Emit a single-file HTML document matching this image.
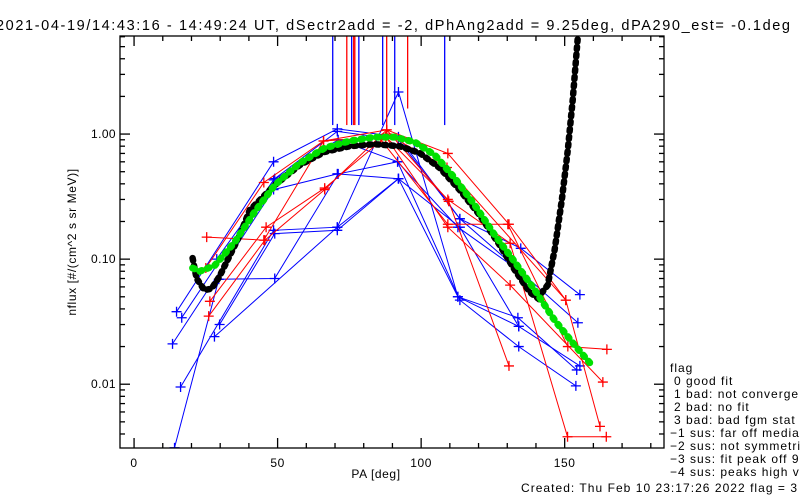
<!DOCTYPE html>
<html><head><meta charset="utf-8"><style>
body{margin:0;background:#fff;width:800px;height:500px;overflow:hidden}
svg{display:block;font-family:"Liberation Sans",sans-serif}
</style></head><body>
<svg id="c" width="800" height="500" xmlns="http://www.w3.org/2000/svg">
<text x="-4" y="30" font-size="14.5" textLength="794" lengthAdjust="spacing">2021-04-19/14:43:16 - 14:49:24 UT, dSectr2add = -2, dPhAng2add = 9.25deg, dPA290_est=  -0.1deg</text>
<text transform="translate(76,242) rotate(-90)" text-anchor="middle" font-size="12" letter-spacing="0.6">nflux [#/(cm^2 s sr MeV)]</text>
<text x="376" y="478" text-anchor="middle" font-size="12" letter-spacing="0.6">PA [deg]</text>
<g font-size="12" letter-spacing="1">
<text x="670" y="372">flag</text>
<text x="674" y="385">0 good fit</text>
<text x="674" y="398">1 bad: not converge</text>
<text x="674" y="411">2 bad: no fit</text>
<text x="674" y="424">3 bad: bad fgm stat</text>
<text x="670" y="437">−1 sus: far off median</text>
<text x="670" y="450">−2 sus: not symmetric</text>
<text x="670" y="463">−3 sus: fit peak off 90</text>
<text x="670" y="476">−4 sus: peaks high val</text>
</g>
<text x="521" y="492" font-size="12" textLength="276" lengthAdjust="spacing">Created: Thu Feb 10 23:17:26 2022    flag = 3</text>
</svg>
<script>
const xTicks=[0,50,100,150];
const yTicks=[0.01,0.1,1];
const yTickLabels=["0.01","0.10","1.00"];
const blackPA=[20.4,21.8,24.5,27.0,29.8,36.8,40.3,49.0,57.7,66.4,75.1,83.8,92.5,99.5,106.5,113.5,120.4,127.4,132.6,137.8,140.6,144.1,146.5,149.0,151.1,152.8,154.6];
const blackFlux=[0.102,0.070,0.0566,0.058,0.073,0.155,0.247,0.39,0.565,0.72,0.80,0.83,0.80,0.705,0.535,0.356,0.225,0.129,0.082,0.0545,0.0488,0.062,0.118,0.296,0.745,1.87,6.08];
const greenPA=[20.4,22.9,28.1,35.1,42.0,49.0,57.7,66.4,75.1,83.8,90.8,97.8,104.8,111.7,118.7,125.7,132.6,139.6,146.5,153.5,159.8];
const greenFlux=[0.085,0.080,0.089,0.137,0.238,0.39,0.586,0.773,0.88,0.946,0.946,0.863,0.679,0.445,0.27,0.155,0.095,0.0566,0.0325,0.0205,0.0139];
const blueSeries=[
 {pa:[14.8,48.6,70.8,92.1,113.5,134.7,155.3],flux:[0.038,0.60,1.10,0.95,0.21,0.122,0.052]},
 {pa:[16.6,48.6,71.1,91.8,112.8,134.7,154.6],flux:[0.034,0.43,0.90,0.60,0.18,0.079,0.031]},
 {pa:[13.4,48.6,70.8,92.1,113.5,134.0,155.3],flux:[0.021,0.36,0.48,0.44,0.18,0.029,0.014]},
 {pa:[16.2,48.6,70.8,92.1,112.8,133.7,154.2],flux:[0.0095,0.17,0.18,2.17,0.050,0.034,0.013]},
 {pa:[14.1,29.5,49.0,71.1,91.8,113.5,134.0,153.9],flux:[0.0031,0.069,0.070,0.48,0.60,0.047,0.020,0.0097]},
 {pa:[28.0,70.8,92.1,112.8,134.0],flux:[0.024,0.18,0.44,0.050,0.029]},
 {pa:[28.8,49.0,70.8,92.1,113.5,134.7],flux:[0.10,0.44,1.05,0.90,0.21,0.079]},
 {pa:[29.8,49.0,70.8,92.1],flux:[0.030,0.16,0.17,0.44]}
];
const redSeries=[
 {pa:[25.3,45.2,66.0,88.0,109.3,130.6,150.4],flux:[0.15,0.142,0.88,1.08,0.70,0.19,0.047]},
 {pa:[25.0,45.2,66.0,87.7,109.3,131.0,151.0,164.5],flux:[0.085,0.41,0.88,0.95,0.30,0.134,0.0038,0.0038]},
 {pa:[26.4,46.0,66.4,87.7,109.3,131.0,163.3],flux:[0.046,0.18,0.37,0.95,0.18,0.062,0.0104]},
 {pa:[26.0,45.6,66.4,88.0,109.6,130.6],flux:[0.035,0.142,0.36,1.08,0.29,0.014]},
 {pa:[86.0,109.3,130.2,151.1,164.7],flux:[0.90,0.19,0.19,0.020,0.019]},
 {pa:[88.0,109.0,150.4,162.3],flux:[1.0,0.54,0.047,0.0046]}
];
const vlinePA=[69.2,74.1,75.8,76.5,76.9,78.3,86.6,88.0,90.8,95.3,108.2];
const vlineColor=["blue","red","blue","red","red","blue","blue","red","blue","red","blue"];
const vlineBottom=[1.18,1.18,1.18,1.18,1.18,1.18,1.18,1.05,1.18,1.6,1.18];

const L=120,R=664,T=36,B=448,xMin=-4.9,xMax=184.6,lMin=-2.51,lMax=0.784;
const xs=v=>L+(v-xMin)/(xMax-xMin)*(R-L);
const ys=v=>B-(Math.log10(v)-lMin)/(lMax-lMin)*(B-T);
const NS="http://www.w3.org/2000/svg",svg=document.getElementById('c');
function mk(t,a,p){const e=document.createElementNS(NS,t);for(const k in a)e.setAttribute(k,a[k]);(p||svg).appendChild(e);return e;}
const clip=mk('clipPath',{id:'pc'});mk('rect',{x:L,y:T,width:R-L,height:B-T},clip);
const plot=mk('g',{'clip-path':'url(#pc)'});


function pathOf(pa,fl){return pa.map((p,i)=>(i?'L':'M')+xs(p).toFixed(1)+' '+ys(fl[i]).toFixed(1)).join(' ');}
function series(s,col,name){
 const g=mk('g',{},plot);
 
 
 mk('path',{d:pathOf(s.pa,s.flux),fill:'none',stroke:col,'stroke-width':1},g);
 s.pa.forEach((p,i)=>{const x=xs(p),y=ys(s.flux[i]);
  const m=mk('path',{d:`M${x-5} ${y}H${x+5}M${x} ${y-5}V${y+5}`,stroke:col,'stroke-width':1.3},g);
  
  });
}
blueSeries.forEach((s,i)=>series(s,'#0000ff','blue-series-'+(i+1)));
redSeries.forEach((s,i)=>series(s,'#ff0000','red-series-'+(i+1)));
vlinePA.forEach((p,i)=>{const l=mk('line',{x1:xs(p),x2:xs(p),y1:T,y2:ys(vlineBottom[i]),stroke:vlineColor[i]==='red'?'#ff0000':'#0000ff','stroke-width':1.3},plot);
 
 });
const bp=mk('path',{d:pathOf(blackPA,blackFlux),fill:'none',stroke:'#000','stroke-width':6.5,'stroke-linecap':'round','stroke-dasharray':'2.5 5'},plot);


const gp=mk('path',{d:pathOf(greenPA,greenFlux),fill:'none',stroke:'#00e000','stroke-width':7,'stroke-linecap':'round','stroke-dasharray':'2 6'},plot);


// axes
const ax=mk('g',{stroke:'#000','stroke-width':1.3,fill:'none'});


mk('rect',{x:L,y:T,width:R-L,height:B-T},ax);
for(let v=0;v<=180;v+=10){const x=xs(v),len=v%50===0?10:5;
 mk('line',{x1:x,x2:x,y1:B,y2:B-len},ax);mk('line',{x1:x,x2:x,y1:T,y2:T+len},ax);}
xTicks.forEach(v=>{const t=mk('text',{x:xs(v),y:467,'text-anchor':'middle','font-size':12,'letter-spacing':0.6,fill:'#000'});t.textContent=v;
 
 });
for(let d=-3;d<=0;d++)for(let k=1;k<10;k++){const v=k*Math.pow(10,d);if(v<Math.pow(10,lMin)||v>Math.pow(10,lMax))continue;
 const y=ys(v),len=k===1?10:5;mk('line',{x1:L,x2:L+len,y1:y,y2:y},ax);mk('line',{x1:R,x2:R-len,y1:y,y2:y},ax);}
yTicks.forEach((v,i)=>{const t=mk('text',{x:L-4,y:ys(v)+4,'text-anchor':'end','font-size':12,'letter-spacing':0.4,fill:'#000'});t.textContent=yTickLabels[i];
 
 });
</script>
</body></html>
